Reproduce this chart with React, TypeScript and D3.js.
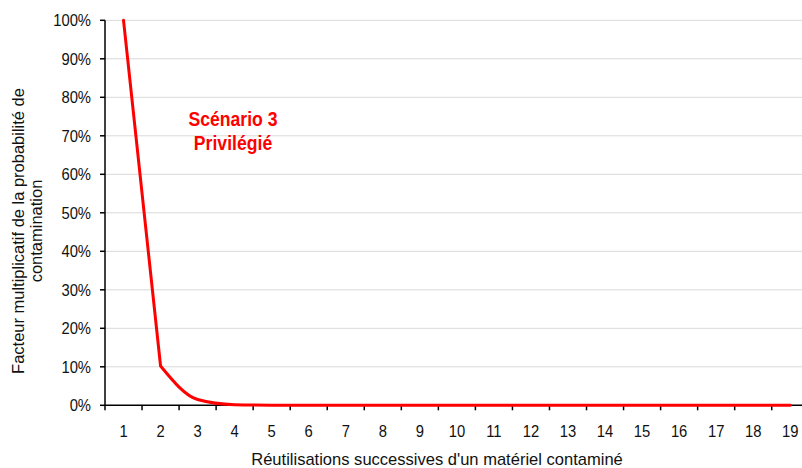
import React from "react";
import * as d3 from "d3";

const categories = [1, 2, 3, 4, 5, 6, 7, 8, 9, 10, 11, 12, 13, 14, 15, 16, 17, 18, 19];
const values = [1.0, 0.102, 0.015, 0.0015, 0.0002, 0, 0, 0, 0, 0, 0, 0, 0, 0, 0, 0, 0, 0, 0];
const yTicks = [0, 0.1, 0.2, 0.3, 0.4, 0.5, 0.6, 0.7, 0.8, 0.9, 1.0];
const yTitle = ["Facteur multiplicatif de la probabilité de", "contamination"];
const xTitle = "Réutilisations successives d'un matériel contaminé";
const annotation = ["Scénario 3", "Privilégié"];

const W = 802;
const H = 468;
const FONT = "'Liberation Sans', Arial, sans-serif";

function NText(props: {
  x: number;
  y: number;
  sx?: number;
  anchor?: string;
  size: number;
  weight?: string;
  fill: string;
  dy?: string;
  children: React.ReactNode;
}) {
  const { x, y, sx = 0.87, anchor = "middle", size, weight = "normal", fill, dy, children } = props;
  return (
    <text
      transform={`translate(${x},${y}) scale(${sx},1)`}
      textAnchor={anchor}
      fontSize={size}
      fontWeight={weight}
      fill={fill}
      dy={dy}
    >
      {children}
    </text>
  );
}

export default function App() {
  const left = 105;
  const band = 37.04;
  const x = d3
    .scaleBand<number>()
    .domain(categories)
    .range([left, left + band * categories.length])
    .paddingInner(0)
    .paddingOuter(0);
  const y = d3.scaleLinear().domain([0, 1]).range([405.3, 20.3]);
  const cx = (c: number) => (x(c) as number) + x.bandwidth() / 2;

  const pts: [number, number][] = values.map((v, i) => [cx(categories[i]), y(v)]);
  const straight = d3.line().curve(d3.curveLinear);
  const smooth = d3.line().curve(d3.curveMonotoneX);
  const pathD = (straight(pts.slice(0, 2)) || "") + (smooth(pts.slice(1)) || "");

  const bounds = categories.map((c) => x(c) as number);
  const xEnd = left + band * categories.length;

  return (
    <svg
      width={W}
      height={H}
      style={{ position: "absolute", left: 0, top: 0, background: "#fff" }}
      fontFamily={FONT}
    >
      {yTicks.slice(1).map((t) => (
        <line key={"g" + t} x1={left} x2={xEnd} y1={y(t)} y2={y(t)} stroke="#d9d9d9" strokeWidth={1} />
      ))}
      <line x1={left} x2={left} y1={y(1)} y2={y(0)} stroke="#000" strokeWidth={1.5} />
      {yTicks.map((t) => (
        <g key={"y" + t}>
          <line x1={left - 5} x2={left} y1={y(t)} y2={y(t)} stroke="#000" strokeWidth={1.5} />
          <NText x={91} y={y(t)} dy="0.36em" anchor="end" size={17} fill="#111">
            {d3.format(".0%")(t)}
          </NText>
        </g>
      ))}
      <line x1={left} x2={xEnd} y1={y(0)} y2={y(0)} stroke="#000" strokeWidth={1.5} />
      {bounds.map((b, i) => (
        <line key={"xt" + i} x1={b} x2={b} y1={y(0)} y2={y(0) + 5} stroke="#000" strokeWidth={1.5} />
      ))}
      {categories.map((c) => (
        <NText key={"xl" + c} x={cx(c)} y={437} size={17} fill="#111">
          {c}
        </NText>
      ))}
      <path
        d={pathD}
        fill="none"
        stroke="#ff0000"
        strokeWidth={3}
        strokeLinejoin="round"
        strokeLinecap="round"
      />
      {annotation.map((s, i) => (
        <NText key={"a" + i} x={233} y={126 + i * 24} sx={0.86} size={20.5} weight="bold" fill="#ff0000">
          {s}
        </NText>
      ))}
      <NText x={437} y={465} sx={0.985} size={16.8} fill="#111">
        {xTitle}
      </NText>
      {yTitle.map((s, i) => (
        <text
          key={"yt" + i}
          transform={`translate(${24 + i * 18},231) rotate(-90) scale(0.97,1)`}
          textAnchor="middle"
          fontSize={17}
          fill="#111"
        >
          {s}
        </text>
      ))}
    </svg>
  );
}
